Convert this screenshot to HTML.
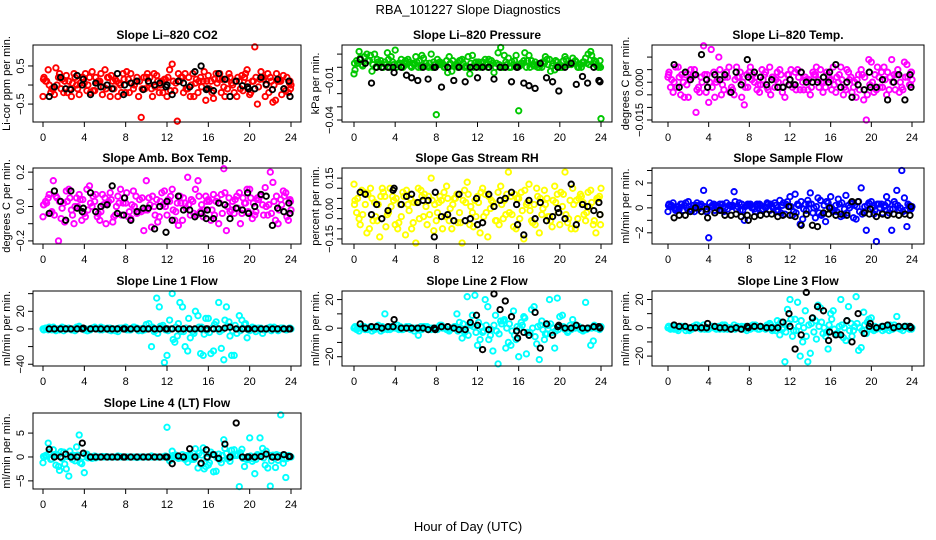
<!DOCTYPE html>
<html><head><meta charset="utf-8"><style>
html,body{margin:0;padding:0;background:#fff;}
svg{display:block;font-family:"Liberation Sans",Arial,sans-serif;}
</style></head><body>
<svg id="chart" width="936" height="540" viewBox="0 0 936 540" xmlns="http://www.w3.org/2000/svg">
<rect x="0" y="0" width="936" height="540" fill="#fff"/>
<text x="468" y="14" text-anchor="middle" font-size="13">RBA_101227  Slope Diagnostics</text>
<text x="468" y="531" text-anchor="middle" font-size="13">Hour of Day (UTC)</text>
</svg>
<script>
const hoursA=[0,0.5,1,1.5,2,2.5,3,3.5,4,4.5,5,5.5,6,6.5,7,7.5,8,8.5,9,9.5,10,10.5,11,11.5,12,12.5,13,13.5,14,14.5,15,15.5,16,16.5,17,17.5,18,18.5,19,19.5,20,20.5,21,21.5,22,22.5,23,23.5,24];
const hoursB=[0.25,0.75,1.25,1.75,2.25,2.75,3.25,3.75,4.25,4.75,5.25,5.75,6.25,6.75,7.25,7.75,8.25,8.75,9.25,9.75,10.25,10.75,11.25,11.75,12.25,12.75,13.25,13.75,14.25,14.75,15.25,15.75,16.25,16.75,17.25,17.75,18.25,18.75,19.25,19.75,20.25,20.75,21.25,21.75,22.25,22.75,23.25,23.75,23.9];
const hoursC=[0.1,0.6,1.1,1.6,2.1,2.6,3.1,3.6,4.1,4.6,5.1,5.6,6.1,6.6,7.1,7.6,8.1,8.6,9.1,9.6,10.1,10.6,11.1,11.6,12.1,12.6,13.1,13.6,14.1,14.6,15.1,15.6,16.1,16.6,17.1,17.6,18.1,18.6,19.1,19.6,20.1,20.6,21.1,21.6,22.1,22.6,23.1,23.6,23.95];
const hoursD=[0.35,0.85,1.35,1.85,2.35,2.85,3.35,3.85,4.35,4.85,5.35,5.85,6.35,6.85,7.35,7.85,8.35,8.85,9.35,9.85,10.35,10.85,11.35,11.85,12.35,12.85,13.35,13.85,14.35,14.85,15.35,15.85,16.35,16.85,17.35,17.85,18.35,18.85,19.35,19.85,20.35,20.85,21.35,21.85,22.35,22.85,23.35,23.85,0.05];
const hoursBlack=[0.6,1.1,1.7,2.2,2.7,3.3,3.8,3.9,4.6,5.1,5.6,6.2,6.7,7.2,7.8,7.9,8.5,9.1,9.7,10.2,10.8,11.3,11.9,12.0,12.5,13.1,13.6,14.2,14.7,15.3,15.8,15.9,16.5,17.0,17.6,18.1,18.7,19.3,19.8,19.9,20.5,21.1,21.6,22.2,22.7,23.3,23.8,23.9];

const co2A=[-0.3,0.4,-0.1,0.2,-0.2,0.1,0.3,-0.25,0.05,0.2,-0.15,0.1,0.4,-0.3,0.15,0.0,-0.2,0.3,0.1,-0.85,0.2,-0.1,0.25,0.1,-0.3,0.55,-0.95,0.2,-0.1,0.3,-0.2,0.1,0.25,-0.35,0.15,-0.05,0.3,-0.2,0.1,0.2,-0.25,1.0,0.15,-0.3,0.2,-0.4,0.1,-0.15,0.0];
const co2B=[0.1,-0.2,0.45,-0.1,0.25,-0.3,0.0,0.2,-0.15,0.35,0.05,-0.25,0.2,0.1,-0.3,0.3,0.15,-0.1,-0.3,0.2,0.05,0.3,-0.2,0.15,0.4,-0.15,0.1,0.3,-0.3,0.05,0.2,-0.4,0.1,0.3,-0.2,0.15,0.05,-0.3,0.25,0.4,0.1,-0.5,0.2,0.3,-0.45,0.1,0.25,-0.2,0.1];
const co2C=[0.2,0.0,-0.25,0.3,0.1,-0.1,0.2,0.05,0.3,-0.2,0.2,0.3,-0.1,0.25,0.1,-0.2,0.35,0.05,0.2,-0.1,0.3,-0.3,0.1,-0.2,0.2,0.1,0.3,-0.2,0.2,-0.3,0.1,0.35,-0.1,0.15,0.3,-0.3,0.2,0.1,-0.1,0.3,-0.2,0.2,0.35,0.0,0.1,0.3,-0.25,0.2,-0.1];
const co2D=[0.1,-0.1,0.0,0.15,-0.2,0.05,-0.1,0.2,0.0,-0.15,0.1,-0.05,0.2,-0.1,0.05,0.15,-0.2,0.0,0.1,-0.1,0.2,-0.05,0.0,0.15,-0.15,0.05,0.2,-0.1,0.0,0.15,-0.05,0.1,-0.2,0.05,0.15,-0.1,0.0,0.2,-0.15,0.05,0.1,-0.05,0.15,-0.2,0.0,0.1,-0.1,0.05,0.15];
const co2Black=[-0.3,-0.05,0.2,-0.1,-0.12,0.25,0.0,0.15,-0.25,0.05,-0.05,0.0,-0.1,0.3,-0.25,0.0,0.05,0.1,-0.12,0.1,0.0,0.05,-0.05,0.0,-0.25,0.1,0.05,-0.05,0.35,0.5,-0.12,-0.1,-0.15,0.3,0.15,-0.3,0.1,-0.02,-0.05,-0.1,-0.1,0.2,0.02,-0.12,0.15,-0.1,0.1,-0.3];

const presA=[-0.005,0.012,0.008,0.005,0.01,0.002,0.004,0.0,0.013,0.003,0.005,0.001,0.008,0.0,0.003,0.01,-0.036,0.002,0.005,-0.003,0.001,0.006,0.0,0.009,0.002,0.004,0.0,0.003,0.011,0.0,0.007,0.002,-0.033,0.005,0.009,0.001,0.0,0.003,0.006,-0.002,0.0,0.008,0.003,0.005,0.002,0.007,0.012,0.004,-0.039];
const presB=[0.005,0.002,0.01,-0.003,0.006,0.0,0.011,0.004,0.002,0.0,0.006,0.003,0.0,0.007,0.0,0.004,0.002,0.0,0.008,0.001,0.005,0.0,-0.005,0.003,0.0,0.006,0.002,0.0,0.015,0.004,0.0,0.009,0.003,0.0,0.005,0.002,0.0,0.006,0.001,0.004,0.0,0.002,0.007,0.0,0.004,0.01,0.003,0.0,0.005];
const presC=[-0.002,0.007,0.003,0.009,0.0,0.005,0.002,0.008,0.0,0.006,0.003,0.0,0.004,0.009,0.001,0.0,0.006,0.003,-0.004,0.005,0.0,0.003,0.008,0.0,0.004,0.001,0.006,-0.004,0.002,0.009,0.0,0.005,0.001,0.011,0.0,0.004,0.002,0.008,-0.003,0.005,0.0,0.006,0.002,0.004,0.0,0.003,0.009,0.001,0.0];
const presD=[0.003,0.001,0.005,0.002,0.004,0.0,0.006,0.002,0.003,0.001,0.004,0.002,0.005,0.001,0.003,0.002,0.004,0.0,0.003,0.002,0.005,0.001,0.003,0.004,0.001,0.002,0.005,0.003,0.0,0.002,0.004,0.001,0.003,0.005,0.002,0.0,0.004,0.002,0.003,0.001,0.005,0.002,0.003,0.0,0.004,0.002,0.005,0.001,0.003];
const presBlack=[0.006,0.003,-0.012,0.0,0.0,0.0,0.0,-0.004,0.0,-0.006,-0.008,-0.01,0.0,-0.009,0.0,0.0,-0.015,0.0,-0.01,0.0,-0.011,0.0,0.0,-0.008,0.0,0.0,-0.009,0.0,0.0,-0.011,0.0,0.0,-0.012,-0.014,-0.016,0.003,-0.008,-0.011,0.0,-0.018,0.0,0.003,-0.013,-0.007,-0.012,0.0,-0.01,-0.011];

const ltempA=[0.002,-0.004,0.006,0.0,-0.006,0.003,-0.002,0.0145,-0.008,0.004,0.01,-0.003,0.006,-0.005,0.002,-0.009,0.004,0.0,-0.004,0.003,0.006,-0.002,0.005,-0.006,0.001,0.004,-0.003,0.002,-0.005,0.003,0.005,-0.002,0.001,-0.004,0.006,-0.003,0.002,-0.006,0.005,-0.015,0.008,-0.003,0.004,-0.005,0.009,0.003,-0.002,0.007,0.001];
const ltempB=[-0.002,0.006,-0.005,0.003,0.005,-0.012,0.002,-0.004,0.013,0.0,-0.005,0.004,-0.002,0.006,-0.006,0.003,0.001,-0.003,0.005,-0.002,0.002,0.004,-0.004,0.003,-0.002,0.005,0.0,-0.003,0.004,0.001,-0.004,0.003,0.006,0.0,-0.005,0.004,-0.002,0.003,-0.007,0.009,-0.004,0.002,0.006,-0.003,0.003,-0.004,0.008,-0.001,0.004];
const ltempC=[0.004,0.0,0.002,-0.006,0.001,0.005,-0.004,0.003,0.0,-0.006,0.005,0.002,-0.004,0.001,0.004,-0.002,0.006,0.002,-0.001,0.004,-0.005,0.001,0.003,0.0,0.005,-0.003,0.004,0.001,-0.002,0.006,0.0,0.004,-0.003,0.002,0.001,0.005,-0.004,0.001,0.003,-0.005,0.0,0.006,-0.002,0.004,0.0,0.005,-0.003,0.002,0.004];
const ltempD=[0.001,-0.002,0.003,-0.001,0.002,-0.003,0.0,0.003,-0.002,0.001,-0.001,0.002,-0.003,0.002,0.0,-0.002,0.003,-0.001,0.001,-0.003,0.002,0.0,-0.002,0.003,-0.001,0.002,-0.003,0.001,0.003,-0.002,0.0,0.002,-0.001,0.003,-0.002,0.001,0.0,-0.003,0.002,-0.001,0.003,-0.002,0.001,0.002,-0.003,0.0,0.002,-0.001,0.003];
const ltempBlack=[0.007,-0.002,0.004,0.001,0.003,0.011,0.001,-0.002,0.003,0.001,0.003,-0.004,0.004,-0.001,0.009,0.002,0.004,0.002,-0.001,0.001,-0.002,-0.002,-0.001,0.001,-0.001,0.004,0.0,0.0,0.0,0.002,0.0,0.004,0.007,-0.002,0.0,-0.006,-0.001,-0.003,0.004,-0.002,-0.002,0.001,-0.007,0.0,0.003,-0.007,0.003,-0.002];

const ambA=[-0.06,0.05,0.15,-0.2,0.02,0.1,-0.1,0.07,-0.04,0.12,0.03,-0.08,0.05,0.08,-0.05,0.1,0.02,-0.07,0.06,-0.03,0.15,-0.12,0.04,0.08,-0.05,0.1,0.02,-0.08,0.17,0.03,0.15,-0.06,0.04,0.07,-0.1,0.22,0.05,-0.04,0.08,0.02,0.1,-0.05,0.06,0.11,0.2,-0.08,0.04,0.08,-0.02];
const ambB=[0.03,-0.04,0.06,-0.07,0.09,-0.02,0.05,-0.08,0.1,0.0,-0.06,0.07,0.02,-0.09,0.06,0.02,-0.06,0.09,-0.03,-0.14,0.05,0.0,-0.06,0.09,0.03,-0.08,0.06,0.02,-0.05,0.1,-0.03,0.06,-0.08,0.03,0.07,-0.14,-0.02,0.06,-0.04,0.1,-0.07,0.05,0.01,-0.05,0.14,-0.1,0.09,-0.08,0.04];
const ambC=[0.01,0.07,-0.05,0.03,-0.09,0.05,0.0,0.04,-0.06,0.02,0.07,-0.03,-0.1,0.04,0.0,-0.05,0.08,0.01,-0.04,0.05,-0.02,0.06,-0.09,0.01,0.04,-0.02,-0.11,0.05,0.01,-0.04,0.06,-0.02,0.03,-0.05,0.02,0.08,-0.03,0.04,-0.1,0.02,0.05,-0.03,0.07,0.0,-0.04,0.06,0.01,-0.06,0.03];
const ambD=[0.02,-0.03,0.05,-0.01,0.03,-0.05,0.0,0.04,-0.02,0.06,-0.04,0.01,0.03,-0.06,0.02,0.05,-0.03,0.0,0.04,-0.02,0.01,-0.05,0.03,0.0,0.06,-0.03,0.02,-0.01,0.04,-0.05,0.01,0.03,-0.02,0.05,-0.04,0.0,0.03,-0.01,0.05,-0.03,0.02,0.04,-0.05,0.01,0.03,-0.02,0.06,-0.04,0.01];
const ambBlack=[-0.04,0.09,0.03,-0.08,0.09,-0.01,-0.03,-0.01,0.08,-0.03,0.0,0.01,0.12,-0.04,-0.05,0.05,-0.08,-0.03,-0.01,-0.01,-0.13,0.0,-0.15,0.03,-0.08,0.06,-0.02,-0.02,-0.06,-0.04,-0.07,-0.02,-0.07,0.02,0.01,-0.07,-0.01,-0.02,0.08,-0.04,0.0,0.07,0.06,-0.11,-0.01,-0.03,0.02,-0.04];

const rhA=[0.12,-0.05,0.08,-0.1,0.03,-0.14,0.06,0.1,-0.08,0.02,-0.13,0.05,-0.17,0.09,0.01,0.15,-0.06,0.04,0.11,-0.1,0.07,-0.17,0.13,-0.02,0.06,0.1,-0.14,0.03,0.08,-0.05,0.18,-0.09,0.05,-0.15,0.12,0.02,-0.12,0.09,-0.04,0.11,-0.08,0.18,0.04,-0.1,0.07,-0.06,0.09,-0.12,0.1];
const rhB=[-0.02,0.09,-0.12,0.05,-0.06,0.1,-0.03,0.06,-0.1,0.08,0.02,-0.07,0.1,-0.04,0.06,-0.11,0.03,0.08,-0.06,0.05,-0.02,0.09,-0.08,0.04,-0.12,0.07,0.0,-0.06,0.11,-0.03,0.06,-0.1,0.08,0.02,-0.06,0.1,-0.03,0.05,-0.09,0.07,0.01,-0.07,0.1,-0.05,0.03,0.08,-0.08,0.05,-0.03];
const rhC=[0.04,-0.08,0.02,0.1,-0.04,0.06,-0.09,0.01,0.05,-0.04,0.09,-0.1,0.03,0.06,-0.08,0.04,-0.02,-0.1,0.05,0.02,-0.07,0.04,0.07,-0.09,0.03,-0.04,0.06,0.01,-0.08,0.04,-0.02,0.07,-0.05,0.09,-0.01,-0.08,0.05,0.02,-0.06,0.03,0.08,-0.03,-0.1,0.04,0.06,-0.02,0.03,0.05,-0.08];
const rhD=[0.05,-0.03,0.07,-0.06,0.02,0.08,-0.02,0.04,-0.07,0.06,-0.01,0.03,-0.05,0.07,-0.03,0.02,0.06,-0.04,0.0,0.05,-0.07,0.03,0.01,-0.04,0.08,-0.02,0.04,-0.06,0.02,0.07,-0.03,0.05,-0.01,0.03,-0.07,0.06,0.0,-0.04,0.04,-0.02,0.07,-0.05,0.02,0.05,-0.03,0.01,-0.06,0.06,0.02];
const rhBlack=[0.08,0.07,-0.03,0.02,-0.05,-0.01,0.09,0.1,0.02,0.06,0.07,0.03,0.04,0.04,-0.14,0.08,-0.04,-0.03,-0.06,0.07,-0.06,-0.05,0.05,-0.08,-0.07,0.07,0.01,0.04,0.05,0.08,0.02,-0.08,-0.13,0.04,-0.05,0.03,-0.06,-0.04,0.0,-0.02,-0.05,0.12,-0.08,0.02,0.01,-0.01,0.03,-0.03];

const sflowA=[-0.3,0.4,0.1,-0.2,0.5,0.2,-0.1,1.4,-2.4,0.3,0.1,-0.3,0.2,1.3,0.4,-1.0,0.2,-0.1,0.3,0.1,-0.2,0.4,0.6,-0.5,0.9,1.1,-1.3,0.3,1.2,-0.8,0.6,-1.1,0.9,0.2,-0.7,1.0,0.4,-0.9,1.6,-1.8,0.5,-2.7,0.3,0.9,-1.8,1.4,3.0,-1.5,0.1];
const sflowB=[0.1,-0.2,0.3,0.4,-0.1,0.2,0.3,-0.3,0.1,0.2,-0.2,0.4,0.1,-0.1,0.3,0.2,0.0,0.3,-0.2,0.4,0.1,-0.3,0.2,0.5,-0.6,0.3,-0.9,0.6,-0.4,0.8,-0.5,0.4,-0.3,0.7,-0.6,0.2,-0.8,0.5,-0.3,0.4,-0.5,0.3,0.1,-0.4,0.5,-0.2,0.8,0.2,-0.1];
const sflowC=[0.3,0.0,-0.1,0.2,0.1,-0.3,0.2,0.1,0.4,-0.2,0.3,0.0,0.2,0.5,-0.2,0.1,0.3,-0.3,0.2,0.0,0.3,0.2,-0.4,0.3,0.1,-0.4,0.5,-0.2,0.3,0.1,-0.6,0.5,0.0,-0.3,0.4,-0.4,0.3,0.1,-0.5,0.2,0.0,0.3,-0.4,0.4,-0.1,0.2,-0.3,0.3,0.0];
const sflowD=[0.2,-0.1,0.3,0.0,-0.2,0.4,0.1,-0.3,0.2,0.0,0.3,-0.1,0.2,0.1,-0.2,0.3,0.0,0.2,-0.1,0.3,0.0,-0.2,0.4,0.1,-0.3,0.2,-0.1,0.3,0.0,-0.4,0.2,0.1,-0.2,0.3,-0.1,0.0,0.2,-0.3,0.1,0.3,-0.2,0.0,0.2,-0.1,0.3,0.0,-0.2,0.1,0.2];
const sflowBlack=[-0.8,-0.6,-0.6,-0.3,0.0,-0.3,-0.1,-0.8,-0.4,-0.2,-0.6,-0.6,-0.5,-0.7,-0.6,-1.0,-0.7,-0.6,-0.5,-0.5,-0.7,-0.6,0.1,-0.6,-0.7,-1.4,-0.5,-1.4,-1.5,-0.4,-0.5,0.0,-0.6,-0.5,-0.6,0.5,0.5,-0.4,-0.5,-0.1,-0.7,-0.5,-0.6,-0.5,-0.6,-0.5,-0.6,0.1];

const l1A=[0,-1,2,0,-2,1,0,3,-1,0,2,-1,0,1,-2,0,2,-1,1,0,5,-20,35,2,-30,40,-8,25,-25,-3,15,-30,12,-25,30,-35,8,-30,15,5,-2,1,0,-1,2,0,1,-1,0];
const l1B=[1,0,-2,1,0,-1,2,0,-2,1,0,-1,1,0,-3,1,0,2,-2,1,6,-3,25,-38,10,-15,30,-20,-10,20,-28,12,-28,8,-22,25,-30,-5,10,-10,2,0,-5,1,0,-2,1,0,1];
const l1C=[-1,2,0,-1,1,0,-2,1,0,-1,1,2,0,-2,0,1,-1,0,1,-2,0,2,-5,4,-2,-12,6,-3,12,-5,2,-6,-4,5,-3,10,-8,4,-2,6,0,-3,1,0,-2,0,1,-1,0];
const l1D=[1,-1,0,2,0,-1,1,0,-2,1,0,1,-1,0,1,0,-1,2,0,-1,1,-2,3,-1,0,2,-3,1,-1,0,2,-2,1,0,-1,3,-2,0,1,-1,0,1,-1,0,2,-1,0,1,-1];
const l1Black=[0,0,0,0,0,0,0,1,0,0,0,0,0,0,0,0,0,0,0,0,0,0,0,0,0,0,0,0,0,0,0,0,0,0,1,2,0,0,0,0,0,0,0,0,0,0,0,0];

const l2A=[0,-2,1,0,-1,0,10,-1,0,1,0,-1,0,1,0,-1,0,2,-1,0,10,-7,22,9,-12,-3,15,-16,-25,5,-10,12,-20,8,-5,15,-22,-8,20,-14,8,-1,2,0,-1,18,-12,0,1];
const l2B=[-1,1,0,-2,0,1,-1,0,2,-1,0,0,-5,1,-1,0,1,0,-2,1,4,-3,3,23,-8,20,-5,9,5,-14,-12,-8,4,-18,13,-11,5,-4,-3,21,9,-3,6,1,-2,0,-9,1,0];
const l2C=[1,0,-1,1,0,-2,0,1,0,-1,1,0,0,-1,1,0,-1,0,1,0,-2,3,-5,1,4,-2,-8,2,-4,6,3,-5,0,7,-3,-6,2,-4,3,-2,1,0,-1,2,0,-1,0,1,0];
const l2D=[0,1,-1,0,2,-1,0,1,-1,0,1,-2,0,1,0,-1,2,0,-1,1,0,-2,2,-3,1,2,-1,-2,3,0,-2,1,2,-3,0,1,-1,2,0,-1,1,-2,0,1,-1,0,2,-1,0];
const l2Black=[3,0,1,1,0,1,1,6,0,0,0,0,0,-1,0,-1,1,1,0,-1,-1,4,9,2,-15,-1,24,13,19,8,-2,-7,-3,-5,11,-14,3,-5,1,2,0,0,2,0,0,1,1,0];

const l3A=[0,1,-2,0,-1,1,0,2,-1,0,1,-1,0,2,0,-1,1,0,-1,0,3,0,-5,-24,20,6,-20,12,-18,5,14,-6,10,-5,20,-9,3,22,-14,-4,7,-1,1,0,-1,8,0,1,0];
const l3B=[-1,0,1,-2,0,2,-1,0,1,-1,0,0,-1,0,1,-2,0,1,0,2,-2,5,-1,13,-6,18,-10,-24,7,16,-4,-15,12,-4,-7,15,-2,-16,11,6,-2,0,1,-2,2,0,1,-1,0];
const l3C=[1,-1,0,1,-2,0,1,-1,0,1,-1,2,0,-1,0,1,-1,2,1,-1,2,-2,4,-3,6,-2,5,-6,3,-8,4,-3,6,-4,2,5,-6,3,-2,4,-1,0,-2,1,-1,0,-2,1,-1];
const l3D=[0,-1,1,0,-1,2,0,-1,1,0,2,-1,0,1,-1,0,2,-1,0,1,-1,2,0,3,-2,1,0,2,-3,1,0,2,-1,1,0,-2,1,0,2,-1,1,0,-1,2,0,-1,1,0,1];
const l3Black=[2,1,1,0,0,0,0,3,1,0,0,-1,0,-1,1,0,1,1,0,0,0,4,10,1,-15,-5,25,7,15,12,-9,-3,-5,-5,5,-10,10,-4,1,3,0,1,2,0,1,1,1,0];

const l4A=[-1.2,2.9,1.5,-2,1,-4,0.3,4.6,-3.3,0,0.2,0,0,0,0,0.1,0,0,0,0,0,0.2,0,0,6.2,1.2,0,0.5,-1.1,0,-2.3,1.9,-1.7,-3.1,0.6,3.6,-0.2,1.5,-6.2,-2,4,-3.5,4,-1.7,-6.1,-2.2,8.8,-4.3,0];
const l4B=[0.3,-0.5,-1.7,1.1,-2.5,0.3,2.1,-1.4,0.6,-0.3,0,0.1,0,0,0.2,0,0,0,0,0,0,0,0,0.1,-0.8,0,0,-0.5,0.5,1.7,-1.5,-2,1,-3,-1.2,0.7,1.4,0.3,1.6,-0.6,-0.9,0.5,1.8,-2.3,0.4,-0.7,-1.3,0.3,0];
const l4C=[0,1,0.5,-2.8,-1.5,1.2,-0.8,-1.2,0.5,0,-0.2,0,0.1,0,0,0,0,0,-0.1,0,0,0,0,0,0,0.3,-0.3,0,0.2,-0.5,0.8,-2.5,-1.2,0.5,-0.6,1.8,-0.9,0.3,0.9,-0.4,0.2,-0.5,0.4,1.2,-0.8,0.5,0.3,-0.3,0];
const l4D=[0.2,-0.4,0.5,-0.3,0.1,-0.5,0.4,0,-0.2,0.1,0,0,0,0,0,0,0,0,0,0,0,0,0,0.2,-0.3,0.4,-0.2,0.3,-0.5,0.2,0.4,-0.3,0.5,-0.2,0.3,-0.4,0.2,0.5,-0.3,0.1,-0.4,0.3,-0.2,0.4,-0.1,0.3,-0.4,0.2,0.1];
const l4Black=[1.6,0,0,0.6,0,0,2.9,0.8,0,0,0,0,0,0,0,0,0,0,0,0,0,0,0,0,-1.4,0.2,0,1.7,0,-1.3,1.5,0,0.5,-0.3,2.7,0,7.1,0,0,0,0,0.1,0.6,0,0,0.5,0.1,0.1];

const xTickValues=[0,4,8,12,16,20,24];

const NS="http://www.w3.org/2000/svg";
const svg=document.getElementById('chart');
function mk(tag,attrs,parent){const e=document.createElementNS(NS,tag);for(const k in attrs)e.setAttribute(k,attrs[k]);(parent||svg).appendChild(e);return e;}

const cols=[{l:33,r:301,x0:43,x24:291},{l:342,r:612,x0:354,x24:601},{l:652,r:924,x0:668,x24:912}];
const rows=[{t:45,b:122},{t:168,b:244},{t:291,b:366},{t:413,b:489}];

const panels=[
 {key:'co2',title:'Slope Li\u2013820 CO2',ylab:'Li-cor ppm per min.',col:0,row:0,color:'#ff0000',ymax:1.05,ymin:-0.97,ticks:[-0.5,0,0.5],labels:['\u22120.5','','0.5'],s:[co2A,co2B,co2C,co2D],k:co2Black},
 {key:'pressure',title:'Slope Li\u2013820 Pressure',ylab:'kPa per min.',col:1,row:0,color:'#00c800',ymax:0.0169,ymin:-0.0415,ticks:[0.01,0,-0.01,-0.02,-0.03,-0.04],labels:['','','\u22120.01','','','\u22120.04'],s:[presA,presB,presC,presD],k:presBlack},
 {key:'li820-temp',title:'Slope Li\u2013820 Temp.',ylab:'degrees C per min.',col:2,row:0,color:'#ff00ff',ymax:0.0148,ymin:-0.0158,ticks:[0.01,0.005,0,-0.005,-0.01,-0.015],labels:['','','0.000','','','\u22120.015'],s:[ltempA,ltempB,ltempC,ltempD],k:ltempBlack},
 {key:'amb-box-temp',title:'Slope Amb. Box Temp.',ylab:'degrees C per min.',col:0,row:1,color:'#ff00ff',ymax:0.224,ymin:-0.218,ticks:[0.2,0.1,0,-0.1,-0.2],labels:['0.2','','0.0','','\u22120.2'],s:[ambA,ambB,ambC,ambD],k:ambBlack},
 {key:'gas-rh',title:'Slope Gas Stream RH',ylab:'percent per min.',col:1,row:1,color:'#ffff00',ymax:0.2,ymin:-0.175,ticks:[0.15,0.1,0.05,0,-0.05,-0.1,-0.15],labels:['0.15','','','0.00','','','\u22120.15'],s:[rhA,rhB,rhC,rhD],k:rhBlack},
 {key:'sample-flow',title:'Slope Sample Flow',ylab:'ml/min per min.',col:2,row:1,color:'#0000ff',ymax:3.2,ymin:-2.9,ticks:[3,2,1,0,-1,-2],labels:['','2','','0','','\u22122'],s:[sflowA,sflowB,sflowC,sflowD],k:sflowBlack},
 {key:'line1-flow',title:'Slope Line 1 Flow',ylab:'ml/min per min.',col:0,row:2,color:'#00ffff',ymax:43,ymin:-42,ticks:[40,20,0,-20,-40],labels:['','20','0','','\u221240'],s:[l1A,l1B,l1C,l1D],k:l1Black},
 {key:'line2-flow',title:'Slope Line 2 Flow',ylab:'ml/min per min.',col:1,row:2,color:'#00ffff',ymax:26,ymin:-26.5,ticks:[20,10,0,-10,-20],labels:['20','','0','','\u221220'],s:[l2A,l2B,l2C,l2D],k:l2Black},
 {key:'line3-flow',title:'Slope Line 3 Flow',ylab:'ml/min per min.',col:2,row:2,color:'#00ffff',ymax:26,ymin:-27,ticks:[20,10,0,-10,-20],labels:['20','','0','','\u221220'],s:[l3A,l3B,l3C,l3D],k:l3Black},
 {key:'line4-flow',title:'Slope Line 4 (LT) Flow',ylab:'ml/min per min.',col:0,row:3,color:'#00ffff',ymax:9.2,ymin:-6.7,ticks:[5,0,-5],labels:['5','0','\u22125'],s:[l4A,l4B,l4C,l4D],k:l4Black}
];
const hourSets=[hoursA,hoursB,hoursC,hoursD];

panels.forEach(p=>{
  const c=cols[p.col],r=rows[p.row];
  const g=mk('g',{});
  
  
  const xs=h=>c.x0+h*(c.x24-c.x0)/24;
  const ys=v=>r.t+(p.ymax-v)/(p.ymax-p.ymin)*(r.b-r.t);
  const cx=(c.l+c.r)/2;
  const t=mk('text',{x:cx,y:r.t-6,'text-anchor':'middle','font-size':12,'font-weight':'bold'},g);
  t.textContent=p.title;
  
  
  const pg=mk('g',{fill:'none','stroke-width':1.9},g);
  
  
  p.s.forEach((arr,si)=>{
    const hs=hourSets[si];
    for(let i=0;i<Math.min(arr.length,hs.length);i++){
      const e=mk('circle',{cx:xs(hs[i]).toFixed(1),cy:ys(arr[i]).toFixed(1),r:2.7,stroke:p.color},pg);
      
      
    }
  });
  const kg=mk('g',{fill:'none','stroke-width':1.9},g);
  
  
  for(let i=0;i<Math.min(p.k.length,hoursBlack.length);i++){
    const e=mk('circle',{cx:xs(hoursBlack[i]).toFixed(1),cy:ys(p.k[i]).toFixed(1),r:2.7,stroke:'#000'},kg);
    
    
  }
  const b=mk('rect',{x:c.l,y:r.t,width:c.r-c.l,height:r.b-r.t,fill:'none',stroke:'#000','stroke-width':1},g);
  
  
  const xa=mk('g',{},g);
  
  
  mk('line',{x1:xs(0),x2:xs(24),y1:r.b,y2:r.b,stroke:'#000'},xa);
  xTickValues.forEach(v=>{
    mk('line',{x1:xs(v),x2:xs(v),y1:r.b,y2:r.b+5,stroke:'#000'},xa);
    const lt=mk('text',{x:xs(v),y:r.b+19,'text-anchor':'middle','font-size':11},xa);
    lt.textContent=v;
    
    
  });
  const ya=mk('g',{},g);
  
  
  const tv=p.ticks.map(ys);
  mk('line',{x1:c.l,x2:c.l,y1:Math.min(...tv),y2:Math.max(...tv),stroke:'#000'},ya);
  p.ticks.forEach((v,i)=>{
    const yy=ys(v);
    mk('line',{x1:c.l-5,x2:c.l,y1:yy,y2:yy,stroke:'#000'},ya);
    if(p.labels[i]){
      const lt=mk('text',{x:c.l-9,y:yy,'text-anchor':'middle','font-size':11,transform:'rotate(-90 '+(c.l-9)+' '+yy+')'},ya);
      lt.textContent=p.labels[i];
      
      
    }
  });
  const yt=mk('text',{x:c.l-23,y:(r.t+r.b)/2,'text-anchor':'middle','font-size':11,transform:'rotate(-90 '+(c.l-23)+' '+((r.t+r.b)/2)+')'},g);
  yt.textContent=p.ylab;
  
  
});
</script>
</body></html>
